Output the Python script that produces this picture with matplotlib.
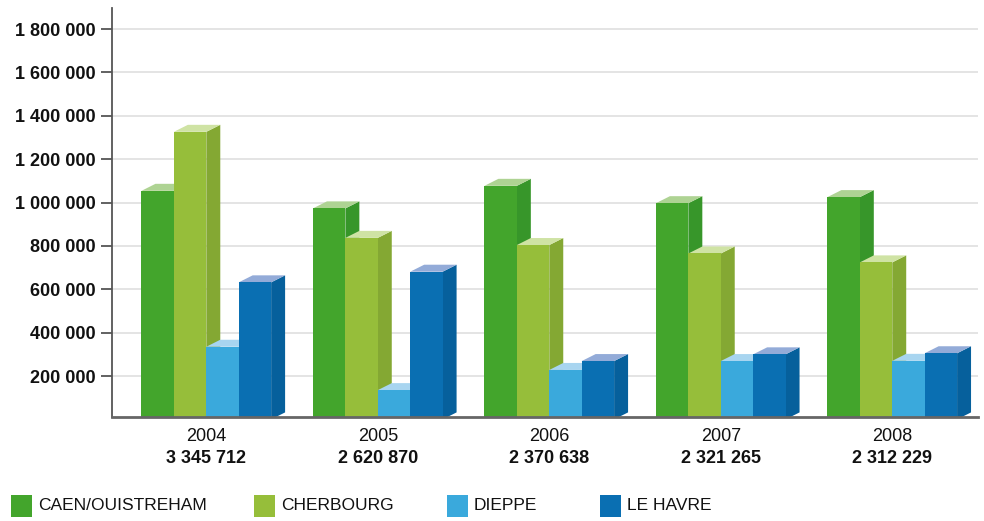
import numpy as np
import matplotlib.pyplot as plt
from matplotlib.patches import Polygon, Rectangle

# data
years = ['2004', '2005', '2006', '2007', '2008']
totals = ['3 345 712', '2 620 870', '2 370 638', '2 321 265', '2 312 229']
ports = ['CAEN/OUISTREHAM', 'CHERBOURG', 'DIEPPE', 'LE HAVRE']
caen = [1054000, 973000, 1077000, 997000, 1025000]
cherbourg = [1326000, 837000, 804000, 765000, 724000]
dieppe = [335000, 135000, 228000, 269000, 270000]
le_havre = [632000, 681000, 269000, 300000, 305000]
yticks = [200000, 400000, 600000, 800000, 1000000, 1200000, 1400000, 1600000, 1800000]

series = [caen, cherbourg, dieppe, le_havre]
front = ['#43A52C', '#96BE3A', '#3AA9DC', '#0A6FB2']
side = ['#37962A', '#84A833', '#2F94C6', '#06609C']
top = ['#AED393', '#CFE3A4', '#A8D5F0', '#93ABD8']

plt.rcParams['font.family'] = ['Liberation Sans', 'DejaVu Sans']

fig = plt.figure(figsize=(9.84, 5.21), dpi=100)
ax = fig.add_axes([112 / 984, 1 - 416.5 / 521, (978 - 112) / 984, (416.5 - 8) / 521])

w = 0.189
dx = 0.0814
dy = 32300
x = np.arange(len(years))

for j, vals in enumerate(series):
    left = x - 2 * w + j * w
    ax.bar(left, vals, width=w, align='edge', color=front[j], zorder=3 + 2 * j, linewidth=0)
    for xl, v in zip(left, vals):
        ax.add_patch(Polygon([(xl + w, 0), (xl + w + dx, dy), (xl + w + dx, v + dy), (xl + w, v)],
                             closed=True, facecolor=side[j], edgecolor='none', zorder=2 + 2 * j))
        ax.add_patch(Polygon([(xl, v), (xl + dx, v + dy), (xl + w + dx, v + dy), (xl + w, v)],
                             closed=True, facecolor=top[j], edgecolor='none', zorder=2 + 2 * j))

ax.set_xlim(-0.55, 4.5)
ax.set_ylim(13400, 1897000)
ax.set_yticks(yticks)
ax.set_yticklabels([f'{v:,}'.replace(',', ' ') for v in yticks], fontsize=13, fontweight='bold')
ax.tick_params(axis='y', length=8, width=1.3, color='#555555', pad=4, labelcolor='#111111')
ax.set_xticks([])
ax.grid(axis='y', color='#DDDDDD', linewidth=1.1, zorder=0)
ax.set_axisbelow(True)
for s in ['top', 'right']:
    ax.spines[s].set_visible(False)
ax.spines['left'].set_color('#555555')
ax.spines['left'].set_linewidth(1.3)
ax.spines['bottom'].set_color('#666666')
ax.spines['bottom'].set_linewidth(2)
ax.spines['bottom'].set_zorder(20)

for xi, yr, tot in zip(x, years, totals):
    ax.annotate(yr, (xi, 0), xycoords=ax.get_xaxis_transform(), xytext=(0, -14.4),
                textcoords='offset points', ha='center', va='center', fontsize=13, color='#111111')
    ax.annotate(tot, (xi, 0), xycoords=ax.get_xaxis_transform(), xytext=(0, -30),
                textcoords='offset points', ha='center', va='center', fontsize=13,
                fontweight='bold', color='#111111')

# legend along the bottom
leg_x = [11, 254, 447, 600]
for lx, name, c in zip(leg_x, ports, front):
    fig.add_artist(Rectangle((lx / 984, 1 - 517 / 521), 21 / 984, 22 / 521,
                             transform=fig.transFigure, facecolor=c, edgecolor='none'))
    fig.text((lx + 27) / 984, 1 - 506 / 521, name, ha='left', va='center',
             fontsize=12.5, color='#111111')

fig.savefig('out.png', dpi=100)
